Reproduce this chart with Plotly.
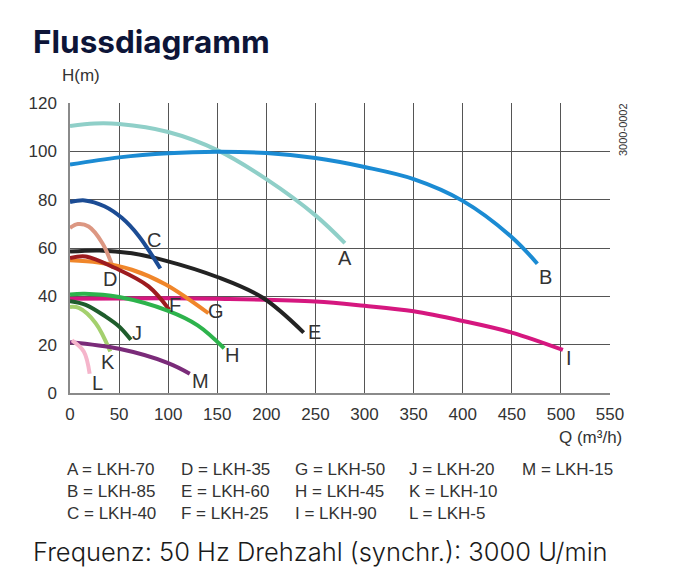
import plotly.graph_objects as go

# ---- data ----
curve_names = ["A", "B", "C", "D", "E", "F", "G", "H", "I", "J", "K", "L", "M"]
A_q = [0, 25, 50, 100, 150, 200, 250, 280]
A_h = [110.5, 111.5, 111.3, 108, 100.5, 88.5, 73.5, 62]
B_q = [0, 50, 100, 150, 200, 250, 300, 350, 400, 450, 476]
B_h = [94.5, 97.5, 99.2, 99.8, 99.3, 97.2, 93.5, 88.5, 79.5, 64.5, 53.5]
C_q = [0, 15, 35, 53, 70, 92]
C_h = [79, 79.7, 77.3, 72.4, 65, 51.5]
D_q = [0, 8, 19, 33, 44]
D_h = [68.3, 69.9, 68.9, 62, 51.7]
E_q = [0, 30, 63, 97, 150, 196, 238]
E_h = [58.5, 59, 57.8, 54.8, 48, 39.5, 25]
F_q = [0, 16, 46, 80, 101]
F_h = [55.8, 56.5, 51.7, 44.1, 34.5]
G_q = [0, 29, 63, 97, 141]
G_h = [54.9, 54, 51, 45, 33]
H_q = [0, 15, 50, 100, 130, 157]
H_h = [40.8, 41.1, 39.7, 34, 28, 18.5]
I_q = [0, 100, 150, 250, 300, 350, 400, 450, 502]
I_h = [39, 39.2, 39, 37.9, 36.1, 33.8, 29.8, 25, 17.8]
J_q = [0, 16, 36, 50, 62]
J_h = [38, 36.5, 31.7, 27.5, 22]
K_q = [0, 9, 26, 41]
K_h = [35.6, 35.2, 29, 17.2]
L_q = [2, 14, 20]
L_h = [21.8, 17.2, 8]
M_q = [0, 50, 100, 122]
M_h = [21, 18.3, 12.4, 8]

legend_rows = [
    ["A = LKH-70", "D = LKH-35", "G = LKH-50", "J = LKH-20", "M = LKH-15"],
    ["B = LKH-85", "E = LKH-60", "H = LKH-45", "K = LKH-10", ""],
    ["C = LKH-40", "F = LKH-25", "I = LKH-90", "L = LKH-5", ""],
]
x_ticks = [0, 50, 100, 150, 200, 250, 300, 350, 400, 450, 500, 550]
y_ticks = [0, 20, 40, 60, 80, 100, 120]

# ---- styles ----
colors = {
    "A": "#8fcfc8", "B": "#1b8bd3", "C": "#1c4c94", "D": "#dc9782",
    "E": "#232323", "F": "#9d1b1f", "G": "#f0862a", "H": "#2db34c",
    "I": "#d5177f", "J": "#1f5d2c", "K": "#a4d06e", "L": "#f5b5cb",
    "M": "#7a2b79",
}
label_pos = {
    "A": (280.5, 55.9), "B": (484, 48), "C": (86, 63.4), "D": (41, 47.3),
    "E": (249, 25.4), "F": (106.5, 36.5), "G": (149, 34), "H": (165.5, 15.9),
    "I": (508.5, 14.6), "J": (68, 25), "K": (39, 13), "L": (28, 4.3),
    "M": (133, 5),
}
series = {
    "A": (A_q, A_h), "B": (B_q, B_h), "C": (C_q, C_h), "D": (D_q, D_h),
    "E": (E_q, E_h), "F": (F_q, F_h), "G": (G_q, G_h), "H": (H_q, H_h),
    "I": (I_q, I_h), "J": (J_q, J_h), "K": (K_q, K_h), "L": (L_q, L_h),
    "M": (M_q, M_h),
}
draw_order = ["A", "B", "I", "E", "C", "D", "G", "F", "H", "J", "K", "M", "L"]

W, H = 677, 580
L_M, R_M, T_M, B_M = 70, 67, 103, 187
PW, PH = W - L_M - R_M, H - T_M - B_M
SANS = "Liberation Sans, Arial, Helvetica, sans-serif"


def px(x):
    return (x - L_M) / PW


def py(y):
    return (H - B_M - y) / PH


fig = go.Figure()
for name in draw_order:
    q, h = series[name]
    fig.add_trace(go.Scatter(
        x=q, y=h, mode="lines", name=name,
        line=dict(color=colors[name], width=4, shape="spline", smoothing=1.0),
        hoverinfo="skip", showlegend=False,
    ))

tick_font = dict(family=SANS, size=17, color="#333333")
annotations = []
for name in curve_names:
    lx, ly = label_pos[name]
    annotations.append(dict(x=lx, y=ly, xref="x", yref="y", text=name,
                            showarrow=False, font=dict(family=SANS, size=20, color="#333333")))

annotations.append(dict(x=px(31), y=py(41), xref="paper", yref="paper", text="<b>Flussdiagramm</b>",
                        xanchor="left", yanchor="middle", showarrow=False,
                        font=dict(family="Inter, Lato, sans-serif", size=31.5, color="#0d1538")))
annotations.append(dict(x=px(81), y=py(76), xref="paper", yref="paper", text="H(m)",
                        xanchor="center", yanchor="middle", showarrow=False, font=tick_font))
annotations.append(dict(x=px(624), y=py(437), xref="paper", yref="paper", text="Q (m³/h)",
                        xanchor="right", yanchor="middle", showarrow=False, font=tick_font))
annotations.append(dict(x=px(623), y=py(130), xref="paper", yref="paper", text="3000-0002",
                        textangle=-90, xanchor="center", yanchor="middle", showarrow=False,
                        font=dict(family=SANS, size=11, color="#333333")))

col_x = [65, 179, 293, 407, 520]
row_y = [469, 491, 513]
for r, row in enumerate(legend_rows):
    for c, txt in enumerate(row):
        if txt:
            annotations.append(dict(x=px(col_x[c]), y=py(row_y[r]), xref="paper", yref="paper",
                                    text=txt, xanchor="left", yanchor="middle", showarrow=False,
                                    font=dict(family=SANS, size=17, color="#333333")))

annotations.append(dict(x=px(31), y=py(551), xref="paper", yref="paper",
                        text="Frequenz: 50 Hz Drehzahl (synchr.): 3000 U/min",
                        xanchor="left", yanchor="middle", showarrow=False,
                        font=dict(family="Inter, sans-serif", size=25.5, color="#1a1a1a", weight=300)))

fig.update_layout(
    width=W, height=H,
    margin=dict(l=L_M, r=R_M, t=T_M, b=B_M, autoexpand=False),
    paper_bgcolor="white", plot_bgcolor="white",
    annotations=annotations,
    xaxis=dict(range=[0, 550], tickvals=x_ticks, ticktext=[str(v) for v in x_ticks],
               showgrid=True, gridcolor="#555555", gridwidth=1, zeroline=False,
               showline=True, linecolor="#8a8a8a", linewidth=1.5, mirror=False,
               tickfont=tick_font, ticks="", ticklabelstandoff=5, fixedrange=True),
    yaxis=dict(range=[0, 120], tickvals=y_ticks, ticktext=[str(v) for v in y_ticks],
               showgrid=True, gridcolor="#555555", gridwidth=1, zeroline=False,
               showline=True, linecolor="#8a8a8a", linewidth=1.5, mirror=False,
               tickfont=tick_font, ticks="", ticklabelstandoff=8, fixedrange=True),
)

fig.write_html("out.html")
